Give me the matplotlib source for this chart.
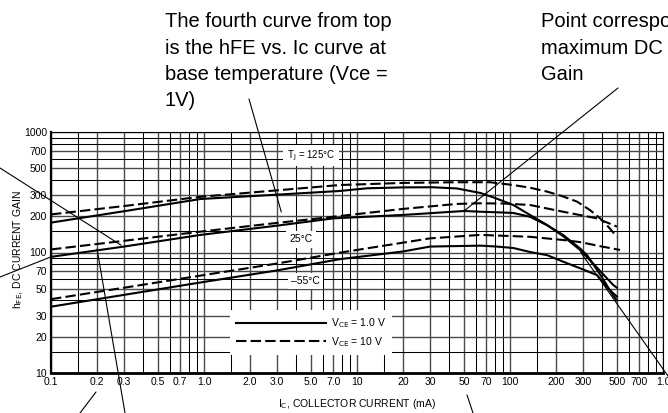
import matplotlib
matplotlib.use('Agg')
import matplotlib.pyplot as plt
from matplotlib.ticker import FixedLocator, FixedFormatter, NullFormatter

plt.rcParams['font.family'] = ['Liberation Sans Narrow', 'Liberation Sans', 'DejaVu Sans']
plt.rcParams['mathtext.fontset'] = 'custom'
plt.rcParams['mathtext.rm'] = 'Liberation Sans Narrow'
plt.rcParams['mathtext.default'] = 'rm'

# hFE vs Ic curves (Ic in mA)
# TJ = 125 C
ic_hot_10 = [0.1, 0.3, 0.95, 3.0, 7.7, 20, 45, 74, 105, 135, 175, 220, 275, 333, 388, 440, 500]
hfe_hot_10 = [207, 243, 290, 328, 363, 378, 383, 383, 363, 345, 320, 293, 264, 225, 192, 163, 135]
ic_hot_1 = [0.1, 0.3, 0.95, 3.0, 7.7, 11.6, 20, 31, 45, 64, 80, 105, 135, 175, 222, 287, 370, 471, 500]
hfe_hot_1 = [177, 220, 278, 302, 324, 341, 347, 348, 340, 312, 283, 248, 205, 169, 137, 105, 75, 54, 51]
# TJ = 25 C
ic_room_10 = [0.1, 0.3, 0.95, 3.0, 7.0, 20, 45, 64, 90, 135, 222, 370, 500]
hfe_room_10 = [106, 125, 149, 176, 198, 230, 253, 256, 255, 248, 218, 192, 164]
ic_room_1 = [0.1, 0.3, 0.95, 3.0, 7.0, 20, 50, 64, 105, 135, 175, 222, 287, 319, 400, 471, 500]
hfe_room_1 = [92, 112, 140, 167, 192, 205, 221, 218, 213, 198, 168, 140, 108, 95, 62, 44, 40]
# TJ = -55 C
ic_cold_10 = [0.1, 0.3, 1.0, 3.0, 7.7, 30, 64, 135, 222, 287, 400, 524]
hfe_cold_10 = [41, 51, 65, 81, 99.6, 131, 140, 135, 127, 122, 112, 105]
ic_cold_1 = [0.1, 0.3, 1.0, 3.0, 7.7, 20, 30, 64, 82, 105, 135, 175, 222, 287, 370, 440, 500]
hfe_cold_1 = [35.5, 44.5, 57, 71, 88, 102, 112, 114, 112, 109, 101, 95, 84, 74, 65, 50, 43]

x_ticks = [0.1, 0.2, 0.3, 0.5, 0.7, 1, 2, 3, 5, 7, 10, 20, 30, 50, 70, 100, 200, 300, 500, 700, 1000]
x_ticklabels = ['0.1', '0.2', '0.3', '0.5', '0.7', '1.0', '2.0', '3.0', '5.0', '7.0',
                '10', '20', '30', '50', '70', '100', '200', '300', '500', '700', '1.0']
y_ticks = [10, 20, 30, 50, 70, 100, 200, 300, 500, 700, 1000]
x_minor = [m * d for d in [0.1, 1, 10, 100] for m in [1.5, 4, 6, 8, 9]]
y_minor = [m * d for d in [10, 100] for m in [1.5, 4, 6, 8, 9]]

W, H = 668, 413
fig = plt.figure(figsize=(W / 100, H / 100), dpi=100)
ax = fig.add_axes([51 / W, 1 - 373 / H, 612 / W, 241 / H])
ax.set_xscale('log')
ax.set_yscale('log')
ax.set_xlim(0.1, 1000)
ax.set_ylim(10, 1000)

ax.xaxis.set_major_locator(FixedLocator(x_ticks))
ax.xaxis.set_major_formatter(FixedFormatter(x_ticklabels))
ax.xaxis.set_minor_locator(FixedLocator(x_minor))
ax.xaxis.set_minor_formatter(NullFormatter())
ax.yaxis.set_major_locator(FixedLocator(y_ticks))
ax.yaxis.set_major_formatter(FixedFormatter([str(v) for v in y_ticks]))
ax.yaxis.set_minor_locator(FixedLocator(y_minor))
ax.yaxis.set_minor_formatter(NullFormatter())
ax.tick_params(which='both', length=0, labelsize=7.5, pad=3)
ax.set_axisbelow(True)
ax.grid(which='major', color='#4a4a4a', lw=1.0)
ax.grid(which='minor', color='black', lw=0.75)
ax.spines['bottom'].set_linewidth(2)
ax.spines['left'].set_linewidth(1.6)
ax.spines['top'].set_linewidth(0.8)
ax.spines['right'].set_linewidth(0.8)

dash = (0, (5, 2))
lw = 1.5
ax.plot(ic_hot_1, hfe_hot_1, color='black', lw=lw, label='V$_{CE}$ = 1.0 V')
ax.plot(ic_room_1, hfe_room_1, color='black', lw=lw)
ax.plot(ic_cold_1, hfe_cold_1, color='black', lw=lw)
ax.plot(ic_hot_10, hfe_hot_10, color='black', lw=lw, ls=dash, label='V$_{CE}$ = 10 V')
ax.plot(ic_room_10, hfe_room_10, color='black', lw=lw, ls=dash)
ax.plot(ic_cold_10, hfe_cold_10, color='black', lw=lw, ls=dash)

box = dict(facecolor='white', edgecolor='none', pad=2.5)
ax.text(5.0, 640, 'T$_J$ = 125°C', ha='center', va='center', fontsize=7, bbox=box, zorder=3)
ax.text(4.3, 129, '25°C', ha='center', va='center', fontsize=7.5, bbox=box, zorder=3)
ax.text(4.6, 58, '–55°C', ha='center', va='center', fontsize=7.5, bbox=box, zorder=3)

leg = ax.legend(loc='upper left', bbox_to_anchor=((230 - 51) / 612, (373 - 310) / 241),
                fontsize=7.5, frameon=True, fancybox=False, framealpha=1,
                edgecolor='none', facecolor='white', handlelength=8.6,
                handletextpad=0.5, labelspacing=0.45, borderpad=0.6, borderaxespad=0)
leg.set_zorder(5)

ax.set_ylabel('h$_{FE}$, DC CURRENT GAIN', fontsize=7.5)
ax.yaxis.set_label_coords((25 - 51) / 612, (373 - 250) / 241)
ax.set_xlabel('I$_C$, COLLECTOR CURRENT (mA)', fontsize=7.5)
ax.xaxis.set_label_coords(0.5, (373 - 397) / 241)

# callout text above the graph
note_font = ['Liberation Sans', 'DejaVu Sans']
left_note = ['The fourth curve from top', 'is the hFE vs. Ic curve at',
             'base temperature (Vce =', '1V)']
right_note = ['Point corresponding to', 'maximum DC Current', 'Gain']
for i, s in enumerate(left_note):
    fig.text(165 / W, 1 - (27 + 26.5 * i) / H, s, fontsize=14.5, family=note_font, va='baseline')
for i, s in enumerate(right_note):
    fig.text(541 / W, 1 - (27 + 26.5 * i) / H, s, fontsize=14.5, family=note_font, va='baseline')

# callout lines: (text end in figure pixels, point on the graph in data units)
callouts = [
    ((0, H - 168), (0.287, 115)),
    ((0, H - 277), (0.1, 92)),
    ((125, 0), (0.2, 107)),
    ((249, H - 99), (3.2, 217)),
    ((618, H - 88), (50, 221)),
    ((668, H - 376), (290, 100)),
]
for start, end in callouts:
    ax.annotate('', xy=end, xycoords='data', xytext=start, textcoords='figure pixels',
                arrowprops=dict(arrowstyle='-', color='black', lw=0.8, shrinkA=0, shrinkB=0),
                annotation_clip=False)
for start, end in [((80, 0), (96, 21)), ((473, 0), (467, 18))]:
    ax.annotate('', xy=end, xycoords='figure pixels', xytext=start, textcoords='figure pixels',
                arrowprops=dict(arrowstyle='-', color='black', lw=0.8, shrinkA=0, shrinkB=0),
                annotation_clip=False)

fig.savefig('out.png', dpi=100)
